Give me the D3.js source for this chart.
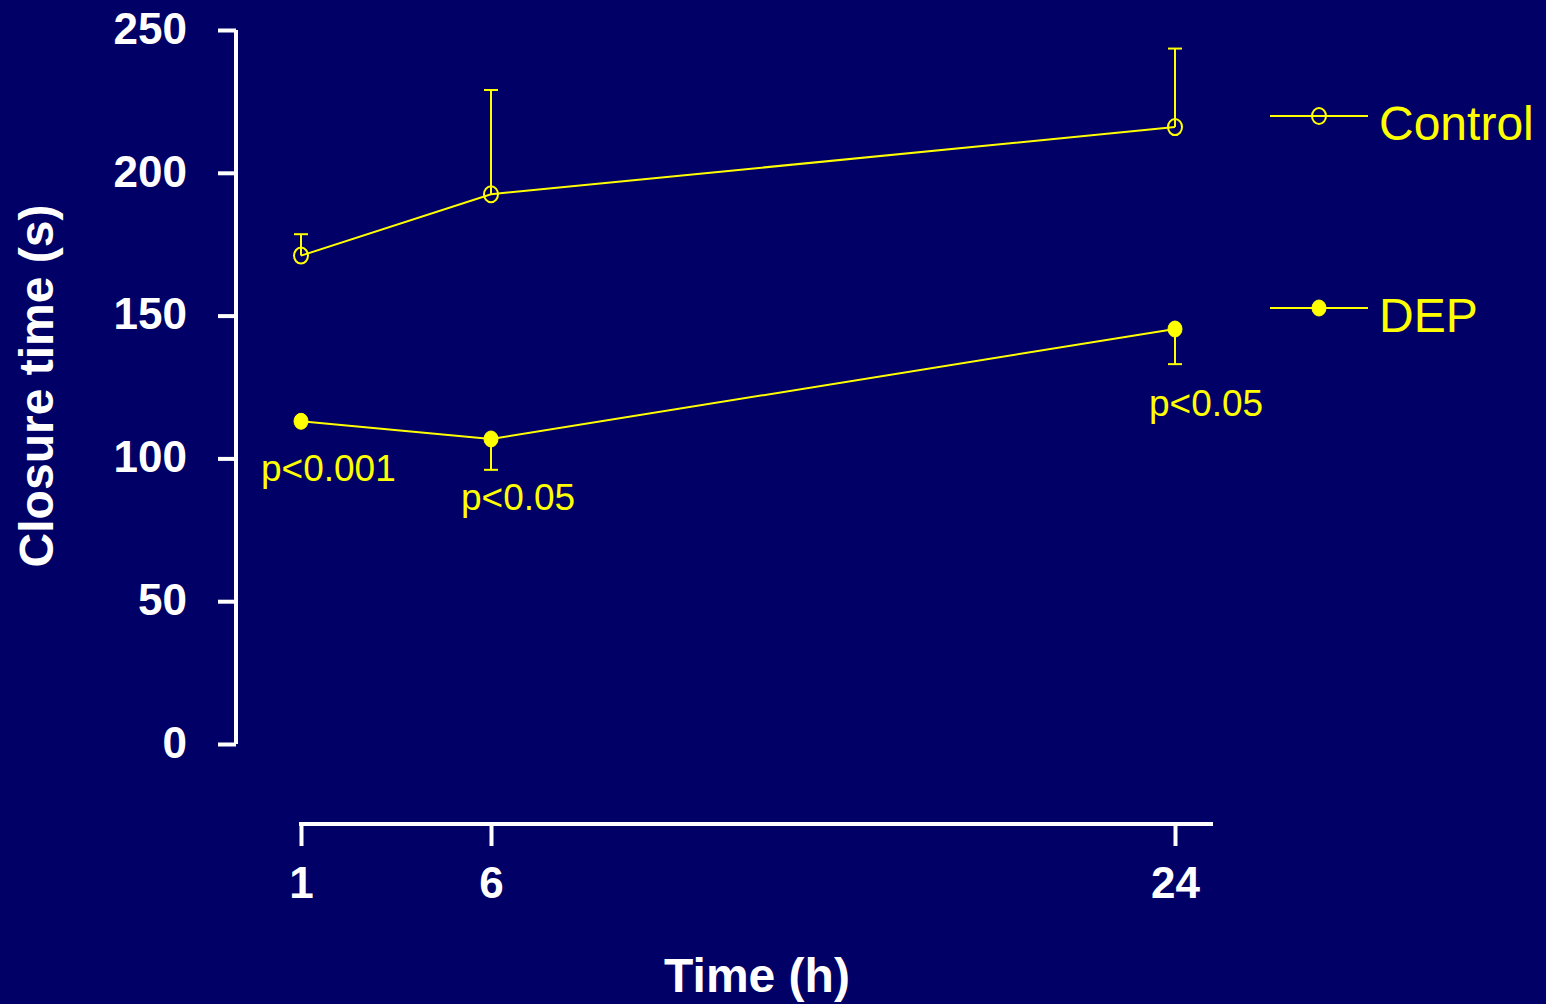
<!DOCTYPE html>
<html>
<head>
<meta charset="utf-8">
<script src="https://cdn.jsdelivr.net/npm/d3@7"></script>
<style>
  body { margin: 0; background: #000066; }
  svg { display: block; }
</style>
</head>
<body>
<div id="chart"></div>
<script>
// time points (h)
var hours = [1, 6, 24];
var xTicks = [1, 6, 24];
var yTicks = [0, 50, 100, 150, 200, 250];

// closure time (s), mean and error bar end
var controlMean = [171, 192.5, 216];
var controlErr  = [178.5, 229, 243.5];
var depMean     = [113, 106.8, 145.3];
var depErr      = [113, 96, 133];
var pLabels     = ["p<0.001", "p<0.05", "p<0.05"];

var W = 1546, H = 1004;
var svg = d3.select("#chart").append("svg")
    .attr("width", W)
    .attr("height", H)
    .style("background", "#000066");

var x = d3.scaleLinear().domain([1, 25]).range([301, 1213]);
var y = d3.scaleLinear().domain([0, 250]).range([744, 30]);

var yellow = "#ffff00";

// y axis
var yAxis = svg.append("g")
    .attr("transform", "translate(236,0)")
    .call(d3.axisLeft(y).tickValues(yTicks).tickSize(18).tickPadding(31).tickSizeOuter(0));
yAxis.select(".domain").attr("stroke", "white").attr("stroke-width", 4).attr("d", "M0," + y(250) + "V" + y(0));
yAxis.selectAll(".tick line").attr("stroke", "white").attr("stroke-width", 4);
yAxis.selectAll(".tick text")
    .attr("fill", "white")
    .attr("font-family", "Liberation Sans, Arial, sans-serif")
    .attr("font-weight", "bold")
    .attr("font-size", "44px")
    .attr("dy", "0.3em");

// x axis
var xAxis = svg.append("g")
    .attr("transform", "translate(0,824)")
    .call(d3.axisBottom(x).tickValues(xTicks).tickFormat(d3.format("d")).tickSize(22).tickPadding(20).tickSizeOuter(0));
xAxis.select(".domain").attr("stroke", "white").attr("stroke-width", 4).attr("d", "M" + (x(1) - 2) + ",0H" + x(25));
xAxis.selectAll(".tick line").attr("stroke", "white").attr("stroke-width", 4);
xAxis.selectAll(".tick text")
    .attr("fill", "white")
    .attr("font-family", "Liberation Sans, Arial, sans-serif")
    .attr("font-weight", "bold")
    .attr("font-size", "44px")
    .attr("dy", "0.72em");

// axis titles
svg.append("text")
    .attr("x", 757)
    .attr("y", 992)
    .attr("text-anchor", "middle")
    .attr("fill", "white")
    .attr("font-family", "Liberation Sans, Arial, sans-serif")
    .attr("font-weight", "bold")
    .attr("font-size", "48px")
    .text("Time (h)");

svg.append("text")
    .attr("transform", "translate(53,386) rotate(-90)")
    .attr("text-anchor", "middle")
    .attr("fill", "white")
    .attr("font-family", "Liberation Sans, Arial, sans-serif")
    .attr("font-weight", "bold")
    .attr("font-size", "48px")
    .text("Closure time (s)");

var control = hours.map(function(h, i){ return {h: h, v: controlMean[i], e: controlErr[i]}; });
var dep = hours.map(function(h, i){ return {h: h, v: depMean[i], e: depErr[i], p: pLabels[i]}; });

var line = d3.line()
    .x(function(d){ return x(d.h); })
    .y(function(d){ return y(d.v); });

function drawSeries(data, filled) {
    var g = svg.append("g");
    // error bars
    g.selectAll("line.err")
        .data(data.filter(function(d){ return d.e !== d.v; }))
        .enter()
        .append("line")
        .attr("x1", function(d){ return x(d.h); })
        .attr("x2", function(d){ return x(d.h); })
        .attr("y1", function(d){ return y(d.v); })
        .attr("y2", function(d){ return y(d.e); })
        .attr("stroke", yellow)
        .attr("stroke-width", 2);
    g.selectAll("line.cap")
        .data(data.filter(function(d){ return d.e !== d.v; }))
        .enter()
        .append("line")
        .attr("x1", function(d){ return x(d.h) - 7; })
        .attr("x2", function(d){ return x(d.h) + 7; })
        .attr("y1", function(d){ return y(d.e); })
        .attr("y2", function(d){ return y(d.e); })
        .attr("stroke", yellow)
        .attr("stroke-width", 2);
    g.append("path")
        .datum(data)
        .attr("d", line)
        .attr("fill", "none")
        .attr("stroke", yellow)
        .attr("stroke-width", 2);
    g.selectAll("ellipse")
        .data(data)
        .enter()
        .append("ellipse")
        .attr("cx", function(d){ return x(d.h); })
        .attr("cy", function(d){ return y(d.v); })
        .attr("rx", 7)
        .attr("ry", 8)
        .attr("fill", filled ? yellow : "none")
        .attr("stroke", yellow)
        .attr("stroke-width", filled ? 1 : 2);
}

drawSeries(control, false);
drawSeries(dep, true);

// p-value labels
var pOffsets = [[-40, 60], [-30, 71], [-26, 87]];
svg.selectAll("text.p")
    .data(dep)
    .enter()
    .append("text")
    .attr("class", "p")
    .attr("x", function(d, i){ return x(d.h) + pOffsets[i][0]; })
    .attr("y", function(d, i){ return y(d.v) + pOffsets[i][1]; })
    .attr("fill", yellow)
    .attr("font-family", "Liberation Sans, Arial, sans-serif")
    .attr("font-size", "37px")
    .text(function(d){ return d.p; });

// legend
var legend = [
    {name: "Control", filled: false, y: 116},
    {name: "DEP", filled: true, y: 308}
];
var lg = svg.selectAll("g.legend")
    .data(legend)
    .enter()
    .append("g")
    .attr("transform", function(d){ return "translate(0," + d.y + ")"; });
lg.append("line")
    .attr("x1", 1270).attr("x2", 1368)
    .attr("y1", 0).attr("y2", 0)
    .attr("stroke", yellow)
    .attr("stroke-width", 2);
lg.append("ellipse")
    .attr("cx", 1319).attr("cy", 0)
    .attr("rx", 7)
    .attr("ry", 8)
    .attr("fill", function(d){ return d.filled ? yellow : "none"; })
    .attr("stroke", yellow)
    .attr("stroke-width", function(d){ return d.filled ? 1 : 2; });
lg.append("text")
    .attr("x", 1379)
    .attr("y", 24)
    .attr("fill", yellow)
    .attr("font-family", "Liberation Sans, Arial, sans-serif")
    .attr("font-size", "48px")
    .text(function(d){ return d.name; });
</script>
</body>
</html>
